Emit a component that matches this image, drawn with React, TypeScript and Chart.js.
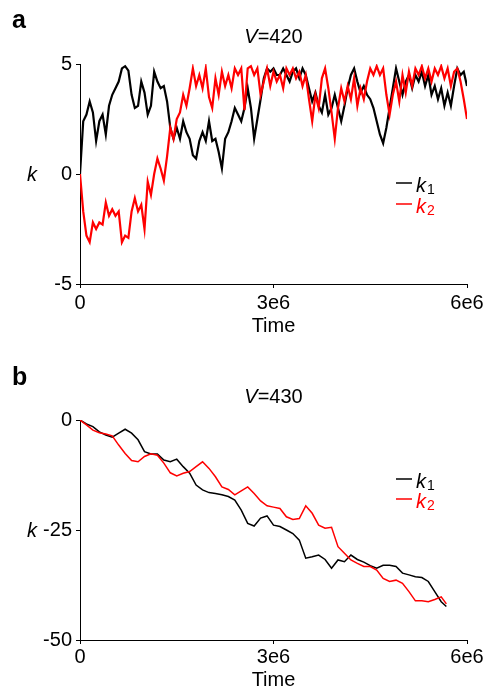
import React, { useEffect, useRef } from "react";
import { Chart, registerables } from "chart.js";

Chart.register(...registerables);

const FONT = '"Liberation Sans", Arial, Helvetica, sans-serif';

// ---------- Panel a (V=420) : time in units of 1e6 ----------
const TIME_A = [
  0, 0.05, 0.1, 0.15, 0.2, 0.25, 0.3, 0.35, 0.4, 0.45,
  0.5, 0.55, 0.6, 0.65, 0.7, 0.75, 0.8, 0.85, 0.9, 0.95,
  1.0, 1.05, 1.1, 1.15, 1.2, 1.25, 1.3, 1.35, 1.4, 1.45,
  1.5, 1.55, 1.6, 1.65, 1.7, 1.75, 1.8, 1.85, 1.9, 1.95,
  2.0, 2.05, 2.1, 2.15, 2.2, 2.25, 2.3, 2.35, 2.4, 2.45,
  2.5, 2.55, 2.6, 2.65, 2.7, 2.75, 2.8, 2.85, 2.9, 2.95,
  3.0, 3.05, 3.1, 3.15, 3.2, 3.25, 3.3, 3.35, 3.4, 3.45,
  3.5, 3.55, 3.6, 3.65, 3.7, 3.75, 3.8, 3.85, 3.9, 3.95,
  4.0, 4.05, 4.1, 4.15, 4.2, 4.25, 4.3, 4.35, 4.4, 4.45,
  4.5, 4.55, 4.6, 4.65, 4.7, 4.75, 4.8, 4.85, 4.9, 4.95,
  5.0, 5.05, 5.1, 5.15, 5.2, 5.25, 5.3, 5.35, 5.4, 5.45,
  5.5, 5.55, 5.6, 5.65, 5.7, 5.75, 5.8, 5.85, 5.9, 5.95,
  6.0,
];
const K1_A = [
  0, 2.4, 2.7, 3.3, 2.8, 1.5, 2.4, 2.7, 1.8, 3.1,
  3.6, 3.9, 4.2, 4.8, 4.9, 4.7, 3.6, 3.0, 3.1, 4.2,
  3.7, 2.7, 3.1, 4.65, 4.2, 3.9, 4.0, 3.3, 2.1, 1.6,
  2.1, 1.6, 2.4, 1.9, 1.6, 0.85, 0.7, 1.5, 1.9, 1.5,
  2.4, 1.5, 1.6, 1.0, 0.25, 1.6, 1.9, 2.4, 3.0, 2.7,
  2.4, 3.0, 3.9, 3.0, 1.6, 2.5, 3.4, 4.35, 4.8, 4.65,
  4.8, 4.5, 4.5, 4.8, 4.5, 4.2, 4.65, 4.8, 4.35, 4.8,
  4.5, 3.9, 3.3, 3.7, 3.1, 2.8, 3.6, 2.7, 3.0, 3.6,
  3.0, 2.4, 3.1, 3.9, 4.5, 4.8, 4.2, 3.7, 4.0, 3.6,
  3.4, 3.0, 2.4, 1.8, 1.4, 2.1, 3.0, 3.9, 4.8, 4.2,
  3.6, 4.2, 4.5, 3.9, 4.5, 4.2, 4.65, 4.0, 4.5, 3.6,
  4.0, 3.4, 3.9, 3.1, 3.7, 3.1, 4.0, 4.8, 4.5, 4.65,
  4.0,
];
const K2_A = [
  0, -1.7, -2.8, -3.1, -2.2, -2.5, -2.2, -2.3, -1.3, -1.9,
  -1.6, -1.9, -1.7, -3.1, -2.8, -2.9, -1.7, -1.1, -1.7, -1.4,
  -2.5, -0.35, -0.95, 0, 0.7, 0.25, -0.3, 0.8, 2.1, 1.6,
  2.5, 2.8, 3.6, 3.1, 3.9, 4.8, 4.0, 4.5, 3.9, 4.8,
  3.5, 3.0, 4.35, 3.6, 4.65, 4.0, 4.5, 3.9, 4.8, 4.5,
  4.8, 2.9, 4.8, 4.9, 4.5, 4.8, 3.6, 4.2, 4.8, 4.0,
  4.65, 4.2, 4.5, 3.9, 4.8, 4.5, 4.8, 4.35, 4.65, 4.0,
  4.5, 3.4, 2.4, 3.6, 3.0, 4.35, 4.8, 3.9, 2.8, 1.6,
  3.0, 3.9, 3.3, 4.0, 3.4, 4.35, 3.1, 3.9, 3.4, 4.2,
  4.8, 4.5, 4.9, 4.5, 4.8, 3.6, 2.7, 3.6, 4.2, 3.3,
  4.5, 3.7, 4.65, 4.0, 4.8, 4.5, 4.9, 4.35, 4.8, 4.2,
  4.8, 4.5, 4.9, 4.35, 4.8, 4.0, 4.65, 4.8, 4.2, 3.4,
  2.5,
];

// ---------- Panel b (V=430) ----------
const TIME_B = [
  0, 0.1, 0.2, 0.3, 0.4, 0.5, 0.6, 0.7, 0.8, 0.9,
  1.0, 1.1, 1.2, 1.3, 1.4, 1.5, 1.6, 1.7, 1.8, 1.9,
  2.0, 2.1, 2.2, 2.3, 2.4, 2.5, 2.6, 2.7, 2.8, 2.9,
  3.0, 3.1, 3.2, 3.3, 3.4, 3.5, 3.6, 3.7, 3.8, 3.9,
  4.0, 4.1, 4.2, 4.3, 4.4, 4.5, 4.6, 4.7, 4.8, 4.9,
  5.0, 5.1, 5.2, 5.3, 5.4, 5.5, 5.6, 5.68,
];
const K1_B = [
  0, -0.9, -1.5, -2.7, -3.4, -3.9, -3.0, -2.1, -3.0, -4.5,
  -7.2, -7.7, -7.7, -9.1, -9.5, -8.9, -10.6, -12.1, -14.8, -15.9,
  -16.5, -16.7, -17.0, -17.4, -18.2, -20.5, -23.5, -24.1, -22.3, -21.8,
  -23.9, -24.2, -25.0, -25.8, -27.3, -31.4, -31.1, -30.7, -31.7, -33.7,
  -31.8, -32.2, -30.7, -31.7, -32.3, -33.1, -33.7, -33.0, -33.0, -33.3,
  -34.8, -35.2, -35.6, -35.8, -36.7, -39.0, -41.3, -42.4,
];
const K2_B = [
  0, -1.1, -2.3, -2.9, -3.2, -3.6, -5.7, -7.6, -9.2, -9.5,
  -8.3, -7.7, -8.0, -9.8, -12.0, -12.7, -12.1, -11.7, -10.6, -9.5,
  -11.0, -12.9, -15.2, -15.8, -17.0, -16.1, -15.2, -16.7, -18.4, -19.5,
  -19.8, -20.1, -22.0, -22.6, -22.4, -19.5, -21.2, -23.9, -24.6, -24.4,
  -28.8, -30.3, -31.8, -32.6, -33.3, -33.3, -34.1, -36.0, -36.7, -36.4,
  -37.1, -39.0, -41.1, -41.1, -41.3, -40.8, -40.2, -41.8,
];

const X_TICKS = [0, 3, 6];
const Y_TICKS_A = [-5, 0, 5];
const Y_TICKS_B = [-50, -25, 0];
const SERIES_NAMES = ["1", "2"];
const SERIES_COLORS = ["#000000", "#ff0000"];

const overlayPlugin = {
  id: "overlay",
  afterDraw(chart: any, _args: any, opts: any) {
    const ctx = chart.ctx;
    const ca = chart.chartArea;
    ctx.save();
    ctx.fillStyle = "#000";
    ctx.textBaseline = "alphabetic";
    ctx.textAlign = "left";
    // panel letter
    ctx.font = `bold 25px ${FONT}`;
    ctx.fillText(opts.letter, 12, opts.letterY);
    // title with italic V
    ctx.font = `italic 20px ${FONT}`;
    const wV = ctx.measureText("V").width;
    ctx.font = `20px ${FONT}`;
    const rest = "=" + opts.v;
    const wR = ctx.measureText(rest).width;
    const cx = (ca.left + ca.right) / 2;
    const x0 = cx - (wV + wR) / 2;
    ctx.font = `italic 20px ${FONT}`;
    ctx.fillText("V", x0, opts.titleY);
    ctx.font = `20px ${FONT}`;
    ctx.fillText(rest, x0 + wV, opts.titleY);
    // y label k
    ctx.font = `italic 20px ${FONT}`;
    ctx.textAlign = "center";
    ctx.fillText("k", 32, (ca.top + ca.bottom) / 2 + 7);
    // legend
    ctx.textAlign = "left";
    SERIES_NAMES.forEach((name, i) => {
      const ly = opts.legendY + i * opts.legendGap;
      const col = SERIES_COLORS[i];
      ctx.strokeStyle = col;
      ctx.lineWidth = 1.5;
      ctx.beginPath();
      ctx.moveTo(396, ly);
      ctx.lineTo(412, ly);
      ctx.stroke();
      ctx.fillStyle = col;
      ctx.font = `italic 20px ${FONT}`;
      ctx.fillText("k", 416, ly + 9);
      const wk = ctx.measureText("k").width;
      ctx.font = `14px ${FONT}`;
      ctx.fillText(name, 416 + wk + 1, ly + 11);
    });
    ctx.restore();
  },
};

function makeConfig(
  times: number[],
  k1: number[],
  k2: number[],
  yMin: number,
  yMax: number,
  yTicks: number[],
  padTop: number,
  xHeight: number,
  xTickPad: number,
  titlePadBottom: number,
  lineW: number,
  overlay: any
) {
  return {
    type: "line" as const,
    data: {
      datasets: [
        {
          label: "k1",
          data: times.map((t, i) => ({ x: t, y: k1[i] })),
          borderColor: SERIES_COLORS[0],
          borderWidth: lineW,
          pointRadius: 0,
          tension: 0,
          fill: false,
          order: 1,
        },
        {
          label: "k2",
          data: times.map((t, i) => ({ x: t, y: k2[i] })),
          borderColor: SERIES_COLORS[1],
          borderWidth: lineW,
          pointRadius: 0,
          tension: 0,
          fill: false,
          order: 0,
        },
      ],
    },
    options: {
      responsive: false,
      animation: false,
      events: [],
      layout: { padding: { top: padTop, right: 21, left: 0, bottom: 0 } },
      plugins: {
        legend: { display: false },
        tooltip: { enabled: false },
        overlay,
      },
      scales: {
        x: {
          type: "linear",
          min: 0,
          max: 6,
          afterBuildTicks: (s: any) => {
            s.ticks = X_TICKS.map((v) => ({ value: v }));
          },
          afterFit: (s: any) => {
            s.height = xHeight;
          },
          grid: {
            display: true,
            drawOnChartArea: false,
            drawTicks: true,
            tickLength: 4,
            color: "#000",
          },
          border: { display: true, color: "#000", width: 1 },
          ticks: {
            color: "#000",
            font: { family: FONT, size: 20 },
            padding: xTickPad,
            maxRotation: 0,
            autoSkip: false,
            callback: (v: any) => (v === 0 ? "0" : v + "e6"),
          },
          title: {
            display: true,
            text: "Time",
            color: "#000",
            font: { family: FONT, size: 20, lineHeight: 1 },
            padding: { top: 0, bottom: titlePadBottom },
          },
        },
        y: {
          type: "linear",
          min: yMin,
          max: yMax,
          afterBuildTicks: (s: any) => {
            s.ticks = yTicks.map((v) => ({ value: v }));
          },
          afterFit: (s: any) => {
            s.width = 80;
          },
          grid: {
            display: true,
            drawOnChartArea: false,
            drawTicks: true,
            tickLength: 4,
            color: "#000",
          },
          border: { display: true, color: "#000", width: 1 },
          ticks: {
            color: "#000",
            font: { family: FONT, size: 20 },
            padding: 4,
            autoSkip: false,
          },
        },
      },
    },
    plugins: [overlayPlugin],
  };
}

export default function App() {
  const refA = useRef<HTMLCanvasElement>(null);
  const refB = useRef<HTMLCanvasElement>(null);

  useEffect(() => {
    const chartA = new Chart(
      refA.current as HTMLCanvasElement,
      makeConfig(TIME_A, K1_A, K2_A, -5, 5, Y_TICKS_A, 64, 61, 3, 9, 2.2, {
        letter: "a",
        letterY: 28,
        v: "420",
        titleY: 43,
        legendY: 183,
        legendGap: 21,
      }) as any
    );
    const chartB = new Chart(
      refB.current as HTMLCanvasElement,
      makeConfig(TIME_B, K1_B, K2_B, -50, 0, Y_TICKS_B, 75, 50, 1, 0, 1.5, {
        letter: "b",
        letterY: 40,
        v: "430",
        titleY: 58,
        legendY: 134,
        legendGap: 20,
      }) as any
    );
    return () => {
      chartA.destroy();
      chartB.destroy();
    };
  }, []);

  return (
    <div
      style={{
        position: "absolute",
        left: 0,
        top: 0,
        width: 488,
        height: 690,
        background: "#fff",
      }}
    >
      <canvas ref={refA} width={488} height={345} style={{ display: "block" }} />
      <canvas ref={refB} width={488} height={345} style={{ display: "block" }} />
    </div>
  );
}
